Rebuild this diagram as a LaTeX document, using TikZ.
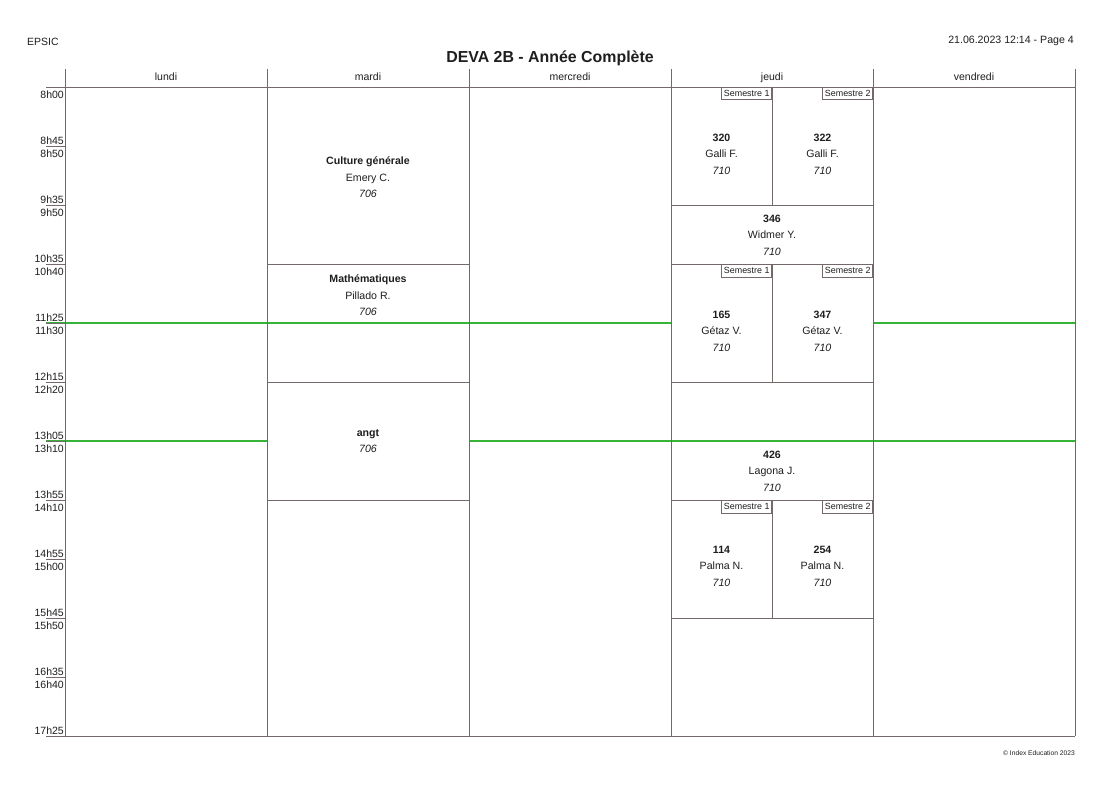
\documentclass[tikz,border=0pt]{standalone}
\usepackage{fontspec}
\setmainfont{Liberation Sans}
\definecolor{gridc}{RGB}{115,105,105}
\definecolor{greenc}{RGB}{55,180,55}
\definecolor{txtc}{RGB}{30,30,30}
\tikzset{
  gridline/.style={draw=gridc, line width=0.8pt},
  greenline/.style={draw=greenc, line width=1.2pt},
  timelbl/.style={anchor=base east, inner sep=0pt, text=txtc, font=\fontsize{10.5}{12}\selectfont},
  dayhdr/.style={anchor=base, inner sep=0pt, text=txtc, font=\fontsize{10.5}{12}\selectfont},
  semlbl/.style={draw=gridc, line width=0.6pt, fill=white, anchor=north east, inner sep=0pt,
    minimum width=50pt, minimum height=12.5pt, text=txtc, font=\fontsize{8.9}{10}\selectfont},
  course/.style={align=center, inner sep=0pt, text=txtc, font=\fontsize{10.6}{16.5}\selectfont},
}
\begin{document}
\begin{tikzpicture}[x=1pt,y=-1pt]
\useasboundingbox (0,0) rectangle (1110,789);
\fill[white] (0,0) rectangle (1110,789);
% header texts
\node[anchor=base west, inner sep=0pt, text=txtc, font=\fontsize{10.5}{12}\selectfont] (school) at (27,46) {EPSIC};
\node[anchor=base east, inner sep=0pt, text=txtc, font=\fontsize{10.6}{12}\selectfont] (date) at (1074,44) {21.06.2023 12:14 - Page 4};
\node[anchor=base, inner sep=0pt, text=txtc, font=\bfseries\fontsize{15.9}{18}\selectfont] (title) at (550,62.5) {DEVA 2B - Année Complète};
\node[anchor=base east, inner sep=0pt, text=txtc, font=\fontsize{6.7}{8}\selectfont] (copy) at (1075,755) {© Index Education 2023};
% day headers
\foreach \d/\nm [count=\i from 0] in {lundi/mon,mardi/tue,mercredi/wed,jeudi/thu,vendredi/fri}
  \node[dayhdr] (h\nm) at ({166+202*\i},81) {\d};
% green lines (behind grid)
\draw[greenline] (46,323) -- (671,323);
\draw[greenline] (873,323) -- (1075,323);
\draw[greenline] (46,441) -- (267,441);
\draw[greenline] (469,441) -- (1075,441);
% grid frame
\foreach \x in {65,267,469,671,873,1075}
  \draw[gridline] (\x,69) -- (\x,736);
\draw[gridline] (46,87) -- (1075,87);
\draw[gridline] (46,736) -- (1075,736);
% left ticks
\foreach \k in {1,...,10}
  \draw[gridline] (46,{87+59*\k}) -- (65,{87+59*\k});
% time labels
\node[timelbl] (t0s) at (64,99) {8h00};
\foreach \e/\s [count=\k] in {8h45/8h50,9h35/9h50,10h35/10h40,11h25/11h30,12h15/12h20,13h05/13h10,13h55/14h10,14h55/15h00,15h45/15h50,16h35/16h40}{
  \node[timelbl] (t\k e) at (64,{87+59*\k-2}) {\e};
  \node[timelbl] (t\k s) at (64,{87+59*\k+11.5}) {\s};
}
\node[timelbl] (t11e) at (64,734) {17h25};
% mardi
\draw[gridline] (267,264) -- (469,264);
\draw[gridline] (267,382) -- (469,382);
\draw[gridline] (267,500) -- (469,500);
\node[course] (cg) at (368,177.5) {\textbf{Culture générale}\\Emery C.\\\textit{706}};
\node[course] (math) at (368,295.5) {\textbf{Mathématiques}\\Pillado R.\\\textit{706}};
\node[course] (angt) at (368,441) {\textbf{angt}\\\textit{706}};
% jeudi
\foreach \y in {205,264,382,500,618}
  \draw[gridline] (671,\y) -- (873,\y);
\draw[gridline] (772,87) -- (772,205);
\draw[gridline] (772,264) -- (772,382);
\draw[gridline] (772,500) -- (772,618);
\foreach \y/\r in {87/a,264/b,500/c}{
  \node[semlbl] (s1\r) at (772,\y) {Semestre 1};
  \node[semlbl] (s2\r) at (873,\y) {Semestre 2};
}
\node[course] (c320) at (721.5,154) {\textbf{320}\\Galli F.\\\textit{710}};
\node[course] (c322) at (822.5,154) {\textbf{322}\\Galli F.\\\textit{710}};
\node[course] (c346) at (772,235) {\textbf{346}\\Widmer Y.\\\textit{710}};
\node[course] (c165) at (721.5,331) {\textbf{165}\\Gétaz V.\\\textit{710}};
\node[course] (c347) at (822.5,331) {\textbf{347}\\Gétaz V.\\\textit{710}};
\node[course] (c426) at (772,471) {\textbf{426}\\Lagona J.\\\textit{710}};
\node[course] (c114) at (721.5,566) {\textbf{114}\\Palma N.\\\textit{710}};
\node[course] (c254) at (822.5,566) {\textbf{254}\\Palma N.\\\textit{710}};
\end{tikzpicture}
\end{document}
